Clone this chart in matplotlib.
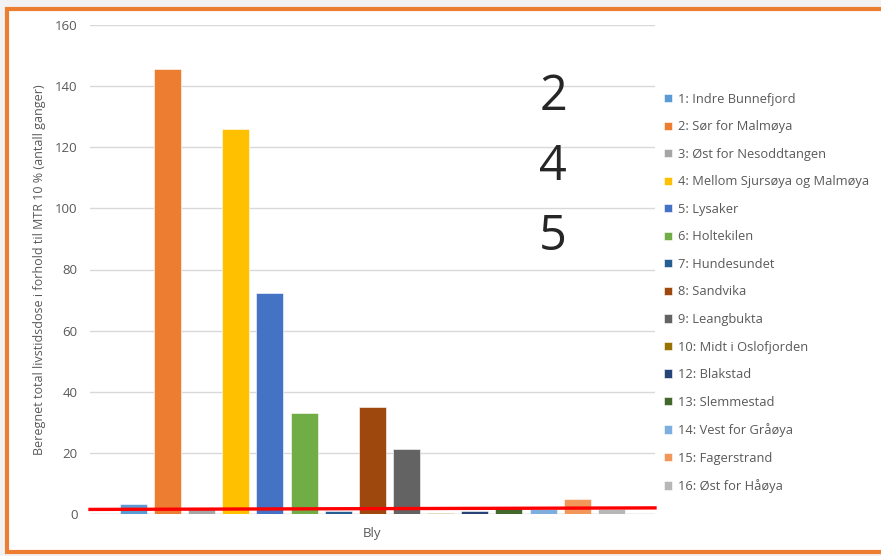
import matplotlib
matplotlib.use("Agg")
import matplotlib.pyplot as plt
from matplotlib.patches import Rectangle
import numpy as np

stations = ["1: Indre Bunnefjord", "2: Sør for Malmøya", "3: Øst for Nesoddtangen",
            "4: Mellom Sjursøya og Malmøya", "5: Lysaker", "6: Holtekilen",
            "7: Hundesundet", "8: Sandvika", "9: Leangbukta", "10: Midt i Oslofjorden",
            "12: Blakstad", "13: Slemmestad", "14: Vest for Gråøya", "15: Fagerstrand",
            "16: Øst for Håøya"]
values = [3.3, 145.6, 1.8, 126.0, 72.2, 33.0, 0.9, 35.1, 21.3, 0.3, 1.0, 1.9, 1.7, 5.0, 1.6]
colors = ["#5B9BD5", "#ED7D31", "#A5A5A5", "#FFC000", "#4472C4", "#70AD47",
          "#255E91", "#9E480E", "#636363", "#997300", "#264478", "#43682B",
          "#7CAFDD", "#F1975A", "#B7B7B7"]
category = "Bly"
yticks = [0, 20, 40, 60, 80, 100, 120, 140, 160]
mtr_line = [1.5, 2.0]
annot = ["2", "4", "5"]

plt.rcParams['font.family'] = ['Open Sans', 'DejaVu Sans']

W, H = 881, 556
fig = plt.figure(figsize=(W / 100, H / 100), dpi=100)
fig.patch.set_facecolor("#F2F2F2")

# orange frame
fig.patches.append(Rectangle((7 / W, 1 - 551.5 / H), (900 - 7) / W, (551.5 - 9) / H,
                             transform=fig.transFigure, facecolor="white",
                             edgecolor="#ED7D31", linewidth=3, zorder=-10))

ax = fig.add_axes([90 / W, 1 - 514 / H, (655 - 90) / W, (514 - 25) / H])
ax.set_zorder(1)
ax.set_facecolor("none")
x = np.arange(len(values))
for i, (v, c, s) in enumerate(zip(values, colors, stations)):
    ax.bar(x[i], v, width=0.79, color=c, label=s, zorder=2, edgecolor="white", linewidth=0.4)

ax.set_xlim(-1.27, 15.28)
ax.set_ylim(0, 160)
ax.set_yticks(yticks)
ax.set_xticks([7])
ax.set_xticklabels([category])
ax.tick_params(axis="both", length=0, colors="#595959", labelsize=9.5)
ax.tick_params(axis="x", pad=9)
ax.tick_params(axis="y", pad=9)
ax.grid(axis="y", color="#D9D9D9", linewidth=1, zorder=0)
for sp in ax.spines.values():
    sp.set_visible(False)
ax.axhline(0, color="#D9D9D9", linewidth=1, zorder=1)

ax.set_ylabel("Beregnet total livstidsdose i forhold til MTR 10 % (antall ganger)",
              color="#595959", fontsize=9)
ax.yaxis.set_label_coords(-0.078, 0.5)

# MTR red line
ax.plot([-1.27, 15.28], mtr_line, color="#FF0000", linewidth=2.4, zorder=4, clip_on=False)

leg = ax.legend(loc="upper left", bbox_to_anchor=(1.0, 0.88), frameon=False,
                fontsize=9.3, labelcolor="#595959", handlelength=0.6, handleheight=0.6,
                handletextpad=0.5, labelspacing=1.125, borderaxespad=0.3)

for k, t in enumerate(annot):
    fig.text(553 / W, 1 - (97 + 70 * k) / H, t, fontsize=35, color="#262626",
             ha="center", va="center")

fig.savefig("out.png", dpi=100, facecolor=fig.get_facecolor())
